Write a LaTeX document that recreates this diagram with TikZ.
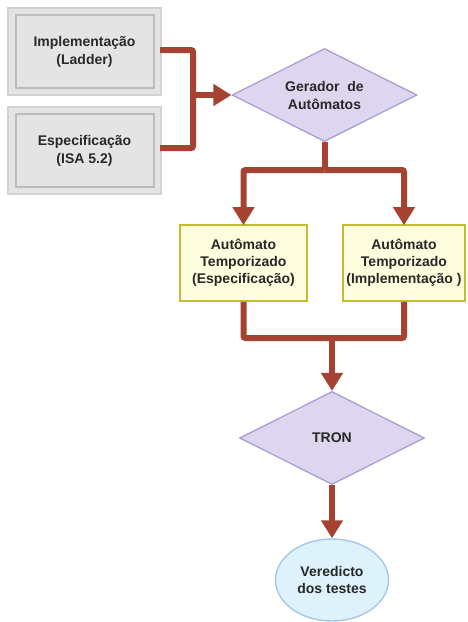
\documentclass[tikz,border=0pt]{standalone}
\usepackage{fontspec}
\setmainfont{Liberation Sans}
\usetikzlibrary{shapes.geometric,arrows.meta}
\definecolor{linkred}{RGB}{166,66,50}
\definecolor{txt}{RGB}{40,40,40}
\definecolor{grayfill}{RGB}{228,228,228}
\definecolor{grayedge}{RGB}{210,210,210}
\definecolor{grayinner}{RGB}{188,188,188}
\definecolor{lavfill}{RGB}{221,214,238}
\definecolor{lavedge}{RGB}{166,154,214}
\definecolor{yelfill}{RGB}{254,253,222}
\definecolor{yeledge}{RGB}{200,186,50}
\definecolor{bluefill}{RGB}{222,242,252}
\definecolor{blueedge}{RGB}{166,198,232}
\tikzset{
  lbl/.style={font=\fontsize{14}{18}\selectfont\bfseries, text=txt, align=center},
  source/.style={lbl, rectangle, fill=grayfill, draw=grayedge, line width=2pt,
    minimum width=153pt, minimum height=87pt, inner sep=0pt},
  inbox/.style={draw=grayinner, line width=1.8pt},
  decision/.style={lbl, diamond, fill=lavfill, draw=lavedge, line width=1.2pt,
    minimum width=185pt, minimum height=93pt, inner sep=0pt, shape aspect=2},
  model/.style={lbl, rectangle, fill=yelfill, draw=yeledge, line width=1.6pt,
    minimum height=76pt, inner sep=0pt,
    font=\fontsize{14}{17}\selectfont\bfseries},
  verdict/.style={lbl, ellipse, fill=bluefill, draw=blueedge, line width=1.4pt,
    minimum width=113pt, minimum height=82pt, inner sep=0pt,
    font=\fontsize{14}{17}\selectfont\bfseries},
  conn/.style={draw=linkred, line width=6pt, rounded corners=2pt},
  flow/.style={conn, -{Triangle[width=21pt,length=18pt]}}
}
\begin{document}
\begin{tikzpicture}[x=1pt, y=-1pt]
  \useasboundingbox (0,0) rectangle (467,622);

  % inputs
  \node[source] (impl) at (84.5,51.5) {Implementação\\(Ladder)};
  \draw[inbox] ([shift={(9,8)}]impl.north west) rectangle ([shift={(-8,-8)}]impl.south east);
  \node[source] (spec) at (84.5,150.5) {Especificação\\(ISA 5.2)};
  \draw[inbox] ([shift={(9,8)}]spec.north west) rectangle ([shift={(-8,-8)}]spec.south east);

  % generator
  \node[decision] (gen) at (324.5,95) {Gerador~ de\\Autômatos};

  % timed automata
  \node[model, minimum width=127pt] (tas) at (243.5,263) {Autômato\\Temporizado\\(Especificação)};
  \node[model, minimum width=122pt] (tai) at (404,263) {Autômato\\Temporizado\\(Implementação )};

  % test tool and result
  \node[decision] (tron) at (332,438) {TRON};
  \node[verdict] (res) at (332,580) {Veredicto\\dos testes};

  % joints
  \coordinate (jin) at (193,95);
  \coordinate (jsplit) at (324.5,170);
  \coordinate (jmerge) at (332,338);

  % connectors
  \draw[conn] ([xshift=-2pt]impl.east |- 0,50) -| (jin) |- ([xshift=-2pt]spec.east |- 0,148);
  \draw[flow] (jin) -- (gen.west);

  \draw[conn] (gen.south) -- (jsplit);
  \draw[flow] (jsplit) -| ([yshift=-1pt]tas.north);
  \draw[flow] (jsplit) -| ([yshift=-1pt]tai.north);

  \draw[conn] (tas.south) |- (jmerge) -| (tai.south);
  \draw[flow] (jmerge) -- (tron.north);

  \draw[flow] (tron.south) -- (res.north);
\end{tikzpicture}
\end{document}
